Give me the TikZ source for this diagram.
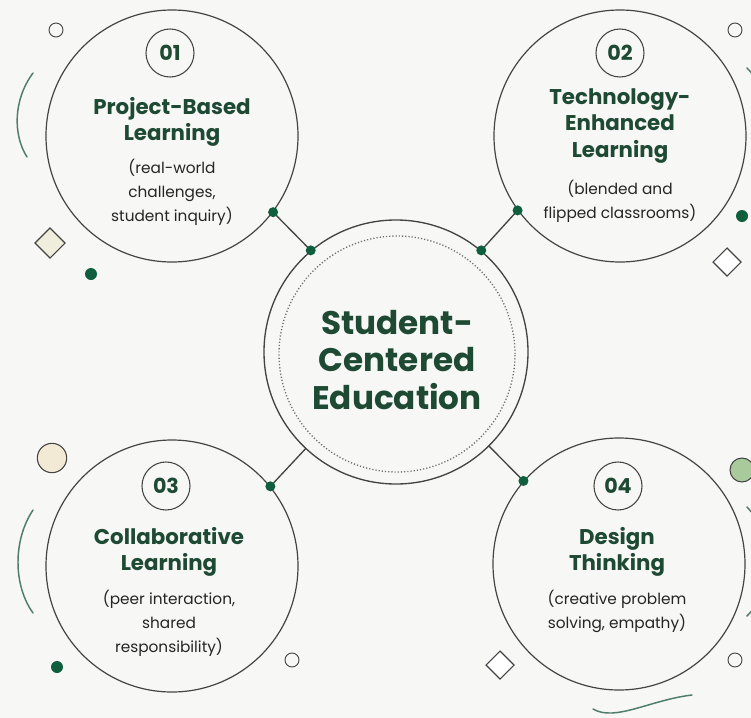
\documentclass[tikz,border=0pt]{standalone}
\usepackage{fontspec}
\setmainfont{Poppins}
\definecolor{bg}{HTML}{F7F7F5}
\definecolor{ink}{HTML}{444444}
\definecolor{dgreen}{HTML}{1E4A33}
\definecolor{dotgreen}{HTML}{0F5E3E}
\definecolor{subtxt}{HTML}{252525}
\definecolor{arcgreen}{HTML}{4F7D6C}
\definecolor{cream}{HTML}{F3EAD6}
\definecolor{lgreen}{HTML}{A9CB9C}
\definecolor{diafill}{HTML}{EFEEDD}
\definecolor{dotline}{HTML}{707070}
\begin{document}
\begin{tikzpicture}[x=0.75pt,y=-0.75pt,
  bigcirc/.style={circle,draw=ink,line width=0.9pt,minimum size=189pt,inner sep=0pt},
  hubcirc/.style={circle,draw=ink,line width=1pt,minimum size=198pt,inner sep=0pt},
  innerring/.style={circle,draw=dotline,line width=1pt,dash pattern=on 0.9pt off 1.5pt,minimum size=177pt,inner sep=0pt},
  badge/.style={circle,draw=ink,line width=0.8pt,minimum size=36pt,inner sep=0pt,text=dgreen,font=\bfseries\fontsize{15.5}{17}\selectfont},
  title/.style={align=center,text=dgreen,font=\bfseries\fontsize{16}{20}\selectfont,inner sep=0pt},
  hubtitle/.style={align=center,text=dgreen,font=\bfseries\fontsize{24.5}{28}\selectfont,inner sep=0pt},
  sub/.style={align=center,text=subtxt,font=\fontsize{11.5}{18}\selectfont,inner sep=0pt},
  jdot/.style={circle,fill=dotgreen,minimum size=7.5pt,inner sep=0pt},
  decodot/.style={circle,fill=dotgreen,minimum size=9pt,inner sep=0pt},
  ring/.style={circle,draw=ink,line width=0.7pt,minimum size=10.5pt,inner sep=0pt},
  link/.style={draw=ink,line width=1pt},
  swoosh/.style={draw=arcgreen,line width=1.1pt,line cap=round},
  diamondshape/.style={draw=ink,line width=0.8pt,line join=miter}
]
\fill[bg] (0,0) rectangle (751,718);
\useasboundingbox (0,0) rectangle (751,718);

% main circles
\node[bigcirc] (c1) at (172,136) {};
\node[bigcirc] (c2) at (620,136) {};
\node[bigcirc] (c3) at (172,566) {};
\node[bigcirc] (c4) at (619,564) {};
\node[hubcirc] (hub) at (396,352) {};
\node[innerring] (hubin) at (397,354) {};

% connector points
\coordinate (p1a) at (c1.323);
\coordinate (p1b) at (hub.130);
\coordinate (p2a) at (c2.216);
\coordinate (p2b) at (hub.50);
\coordinate (p3) at (c3.39);
\coordinate (p4) at (c4.139);
\draw[link] (p1a) -- (p1b);
\draw[link] (p2a) -- (p2b);
\draw[link] (p3) -- (hub);
\draw[link] (p4) -- (hub);
\node[jdot] (d1a) at (p1a) {};
\node[jdot] (d1b) at (p1b) {};
\node[jdot] (d2a) at (p2a) {};
\node[jdot] (d2b) at (p2b) {};
\node[jdot] (d3) at (p3) {};
\node[jdot] (d4) at (p4) {};

% hub text
\node[hubtitle] (hubtxt) at (397,360) {Student-\\Centered\\Education};

% badges
\node[badge] (b1) at (170,53) {01};
\node[badge] (b2) at (620,53) {02};
\node[badge] (b3) at (166,486) {03};
\node[badge] (b4) at (618,486) {04};

% titles and subtitles
\node[title] (t1) at (172,122) {Project-Based\\Learning};
\node[sub] (s1) at (172,192) {(real-world\\challenges,\\student inquiry)};
\node[title] (t2) at (620,126) {Technology-\\Enhanced\\Learning};
\node[sub] (s2) at (620,201) {(blended and\\flipped classrooms)};
\node[title] (t3) at (169,552) {Collaborative\\Learning};
\node[sub] (s3) at (169,623) {(peer interaction,\\shared\\responsibility)};
\node[title] (t4) at (617,552) {Design\\Thinking};
\node[sub] (s4) at (617,611) {(creative problem\\solving, empathy)};

% decorations top-left
\node[ring] (r1) at (56,30) {};
\draw[swoosh] (33,73) .. controls (13,100) and (13,135) .. (27,157);
\draw[diamondshape,fill=diafill] (50,228) -- (65,243) -- (50,258) -- (35,243) -- cycle;
\node[decodot] (g1) at (91,274) {};

% decorations top-right
\node[ring] (r2) at (735,30) {};
\node[decodot] (g2) at (742,216) {};
\draw[diamondshape,fill=white] (727,248) -- (741,262) -- (727,276) -- (713,262) -- cycle;
\draw[swoosh] (747,68) .. controls (778,100) and (778,140) .. (762,165);

% decorations bottom-left
\node[circle,draw=ink,line width=0.8pt,fill=cream,minimum size=22pt,inner sep=0pt] (r3) at (52,458) {};
\draw[swoosh] (33,510) .. controls (13,540) and (13,585) .. (33,613);
\node[decodot] (g3) at (57,667) {};
\node[ring] (r4) at (292,660) {};

% decorations bottom-right
\node[circle,draw=ink,line width=0.8pt,fill=lgreen,minimum size=18pt,inner sep=0pt] (r5) at (742,470) {};
\draw[swoosh] (747,507) .. controls (778,540) and (778,585) .. (747,616);
\node[ring] (r6) at (735,660) {};
\draw[diamondshape,fill=white] (500,651) -- (514,665) -- (500,679) -- (486,665) -- cycle;
\draw[swoosh] (593,709) .. controls (615,722) and (650,700) .. (692,695);
\end{tikzpicture}
\end{document}
